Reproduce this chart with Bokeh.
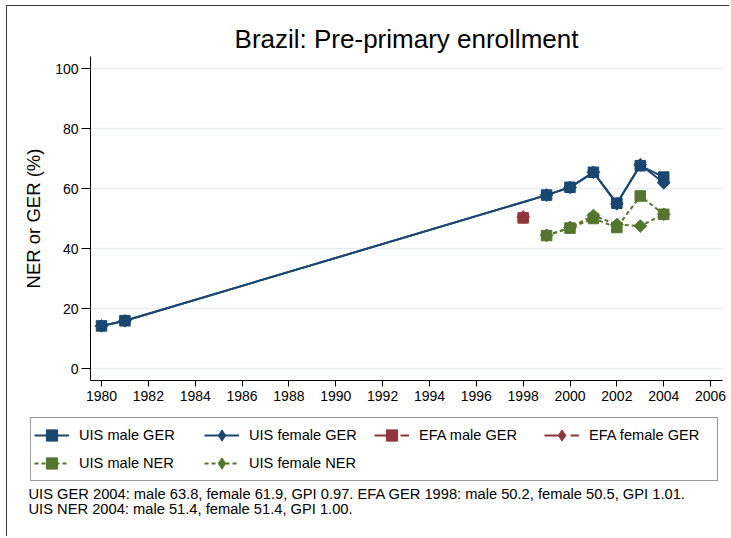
import math
from bokeh.plotting import figure
from bokeh.layouts import column
from bokeh.models import Legend, LegendItem, FixedTicker, Label, Range1d
from bokeh.embed import file_html
from bokeh.resources import INLINE

# ---- data ----
years_ger = [1980, 1981, 1999, 2000, 2001, 2002, 2003, 2004]
uis_male_ger = [14.2, 15.9, 57.8, 60.4, 65.4, 55.1, 67.6, 63.8]
uis_female_ger = [14.2, 15.9, 57.8, 60.4, 65.4, 54.9, 67.9, 61.9]
years_efa = [1998]
efa_male_ger = [50.2]
efa_female_ger = [50.5]
years_ner = [1999, 2000, 2001, 2002, 2003, 2004]
uis_male_ner = [44.3, 46.8, 50.0, 47.0, 57.5, 51.4]
uis_female_ner = [44.4, 47.0, 51.0, 48.0, 47.5, 51.4]
x_ticks = list(range(1980, 2007, 2))
y_ticks = [0, 20, 40, 60, 80, 100]
series_labels = ["UIS male GER", "UIS female GER", "EFA male GER",
                 "EFA female GER", "UIS male NER", "UIS female NER"]
notes = [
    "UIS GER 2004: male 63.8, female 61.9, GPI 0.97. EFA GER 1998: male 50.2, female 50.5, GPI 1.01.",
    "UIS NER 2004: male 51.4, female 51.4, GPI 1.00.",
]

FONT = "Liberation Sans"
NAVY = "#1a476f"
MAROON = "#90353b"
GREEN = "#55752f"

# outer graph-region frame sits at (6, 5); content is offset by it
OX, OY = 7, 6
W = 729 - OX
H1 = 410 - OY
H2 = 126

p = figure(width=W, height=H1, output_backend="svg", toolbar_location=None,
           x_range=Range1d(1979.53, 2006.51), y_range=Range1d(-4, 104),
           min_border_left=90 - OX, min_border_right=7, min_border_top=56 - OY,
           min_border_bottom=30)
p.frame_align = False
p.outline_line_color = None
p.background_fill_color = "white"
p.border_fill_color = "white"

p.title.text = "Brazil: Pre-primary enrollment"
p.title.align = "center"
p.title.text_font = FONT
p.title.text_font_size = "26px"
p.title.text_font_style = "normal"
p.title.text_color = "black"
p.title.standoff = 6

p.xgrid.visible = False
p.ygrid.grid_line_color = "#e6eef1"
p.ygrid.grid_line_width = 1.5
p.xaxis.ticker = FixedTicker(ticks=x_ticks)
p.yaxis.ticker = FixedTicker(ticks=y_ticks)
for ax in (p.xaxis[0], p.yaxis[0]):
    ax.major_label_text_font = FONT
    ax.major_label_text_font_size = "14px"
    ax.major_label_text_color = "black"
    ax.axis_line_color = "black"
    ax.major_tick_line_color = "black"
    ax.minor_tick_line_color = None
    ax.major_tick_in = 0
p.xaxis.major_tick_out = 6
p.yaxis.major_tick_out = 9
p.xaxis.major_label_standoff = 4
p.yaxis.major_label_standoff = 3
p.yaxis.major_label_orientation = "horizontal"
p.yaxis.axis_label = "NER or GER (%)"
p.yaxis.axis_label_text_font = FONT
p.yaxis.axis_label_text_font_size = "18.5px"
p.yaxis.axis_label_text_font_style = "normal"
p.yaxis.axis_label_text_color = "black"
p.yaxis.axis_label_standoff = 8

DIAMOND = dict(marker="square", angle=math.pi / 4, size=9)
SQUARE = dict(marker="square", size=10.5)
LEG_DIAMOND = dict(marker="diamond", size=12)
DASHDOT = "14 5 2 5"
styles = [
    (NAVY, "solid", SQUARE, SQUARE), (NAVY, "solid", DIAMOND, LEG_DIAMOND),
    (MAROON, DASHDOT, SQUARE, SQUARE), (MAROON, DASHDOT, DIAMOND, LEG_DIAMOND),
    (GREEN, "4 3", SQUARE, SQUARE), (GREEN, "4 3", DIAMOND, LEG_DIAMOND),
]
series = [
    (years_ger, uis_male_ger), (years_ger, uis_female_ger),
    (years_efa, efa_male_ger), (years_efa, efa_female_ger),
    (years_ner, uis_male_ner), (years_ner, uis_female_ner),
]
for (xs, ys), (col, dash, mk, _) in zip(series, styles):
    p.line(xs, ys, line_color=col, line_width=2, line_dash=dash)
    p.scatter(xs, ys, color=col, **mk)

# ---- legend + notes panel ----
q = figure(width=W, height=H2, output_backend="svg", toolbar_location=None,
           x_range=Range1d(0, 1), y_range=Range1d(0, 1),
           min_border=0, min_border_left=0, min_border_right=0,
           min_border_top=0, min_border_bottom=0)
q.frame_align = False
q.axis.visible = False
q.grid.visible = False
q.outline_line_color = None
q.background_fill_color = "white"
q.border_fill_color = "white"

NAN = float("nan")
items = []
for lab, (col, dash, _, lmk) in zip(series_labels, styles):
    lr = q.line([NAN], [NAN], line_color=col, line_width=2, line_dash=dash)
    sr = q.scatter([NAN], [NAN], color=col, **lmk)
    items.append(LegendItem(label=lab, renderers=[lr, sr]))

legend = Legend(items=items, ncols=4, orientation="horizontal",
                location=(30 - OX, 55))
legend.label_text_font = FONT
legend.label_text_font_size = "14.6px"
legend.label_text_color = "black"
legend.glyph_width = 35
legend.glyph_height = 28
legend.label_height = 28
legend.label_width = 125
legend.label_standoff = 10
legend.spacing = 0
legend.padding = 3
legend.margin = 0
legend.border_line_color = "#333333"
legend.border_line_width = 1
legend.background_fill_color = "white"
legend.background_fill_alpha = 1
q.add_layout(legend)

for i, t in enumerate(notes):
    q.add_layout(Label(x=28 - OX, y=43 - 15 * i, x_units="screen", y_units="screen",
                       text=t, text_font=FONT, text_font_size="14.7px",
                       text_baseline="middle", text_color="black"))

layout = column(p, q, spacing=0)
layout.styles = {"margin-left": "6px", "margin-top": "5px",
                 "border-top": "1px solid #3a3a3a", "border-left": "1px solid #3a3a3a"}
open("out.html", "w").write(file_html(layout, INLINE))
